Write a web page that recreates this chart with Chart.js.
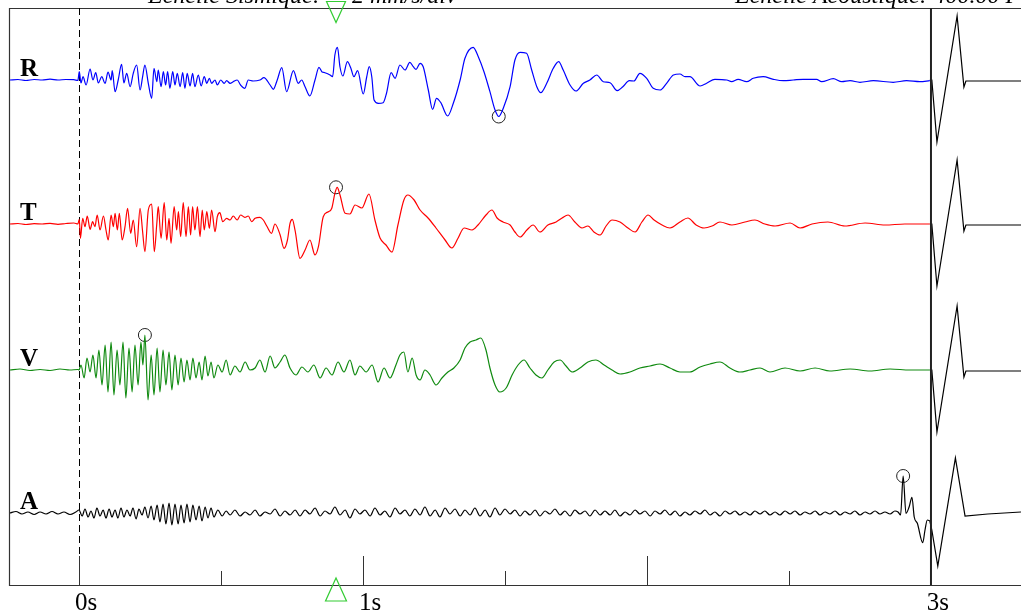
<!DOCTYPE html>
<html><head><meta charset="utf-8">
<script src="https://cdn.jsdelivr.net/npm/chart.js@4/dist/chart.umd.min.js"></script>
<style>html,body{margin:0;padding:0;background:#fff;overflow:hidden}</style>
</head><body>
<canvas id="c" width="1021" height="613"></canvas>
<script>
// ---- axis / labels ----
const tickTimes = [0, 0.5, 1, 1.5, 2, 2.5];
const labelTimes = [0, 1, 3];
const labelTexts = ['0s', '1s', '3s'];
const traceNames = ['R', 'T', 'V', 'A'];
const traceColors = ['#0000ff', '#ff0000', '#108a10', '#000000'];
const baselines = [505, 361, 215, 72];
const titleLeft = 'Echelle Sismique:';
const titleLeft2 = '2 mm/s/div';
const titleRight = 'Echelle Acoustique: 400.00 Pa/div';
const triggerTime = 0.905;

// ---- R (radial) ----
const rTime = [-0.243,-0.215,-0.187,-0.158,-0.130,-0.102,-0.074,-0.046,-0.018,-0.004,
0.001,0.007,0.014,0.025,0.039,0.049,0.059,0.068,0.080,0.092,0.102,0.113,0.117,0.127,0.138,0.150,0.158,0.168,0.180,0.191,0.203,0.215,0.224,0.232,0.244,0.256,0.264,0.274,0.279,0.289,0.297,0.305,0.312,0.320,0.330,0.338,0.346,0.356,0.365,0.373,0.381,0.391,0.400,0.408,0.420,0.430,0.441,0.450,0.459,0.467,0.479,0.487,0.499,0.511,0.520,0.532,0.543,0.557,0.569,0.584,0.596,0.613,0.637,0.651,0.673,0.684,0.698,0.714,0.731,0.755,0.772,0.784,0.796,0.813,0.831,0.845,0.855,0.866,0.884,0.893,0.901,0.910,0.919,0.929,0.945,0.957,0.968,0.981,1.001,1.013,1.022,1.031,1.039,1.054,1.071,1.083,1.099,1.113,1.130,1.148,1.165,1.177,1.187,1.201,1.212,1.230,1.245,1.259,1.274,1.298,1.318,1.342,1.359,1.388,1.406,1.426,1.447,1.465,1.478,1.494,1.518,1.535,1.553,1.576,1.594,1.612,1.626,1.647,1.670,1.689,1.705,1.729,1.750,1.776,1.799,1.823,1.846,1.870,1.895,1.915,1.938,1.954,1.975,1.999,2.022,2.046,2.069,2.093,2.116,2.134,2.151,2.187,2.210,2.239,2.281,2.298,2.321,2.351,2.374,2.409,2.445,2.480,2.515,2.550,2.597,2.615,2.656,2.686,2.715,2.750,2.797,2.867,2.914,2.961,2.996];
const rAmp = [0,0.5,-0.5,0.5,0,0.8,0,0.5,0.3,-0.5,
8.3,-3,3.3,-5,11,0,7.3,-3,3.3,-3.5,8,0,9.3,-11.7,0,15.7,-3,6.7,-6.7,6.7,15,-10,3.3,15,-3.3,-18.3,11.7,-1.7,10,-6.7,8.3,-5,8.3,-8.3,8.3,-5,6.7,-6.7,7.3,-8.3,6.7,-6,6.7,-6.7,5,-6,3.3,-3.3,1.7,-3.3,0,-5,0,-3.3,-0.7,-3.3,-1.7,0,-5,-8.3,0,-1,0,2.3,-5,-9.3,0,12.3,-11.7,9.3,-3.3,0,-6.7,-16,0,12.7,8.3,7.3,5,3.3,25,32.7,13,4,18.3,12,3.3,9.3,-14,3,13.3,3,-20,-23.3,-22.7,-13,7.3,1.7,15,10,17.7,13.3,10.7,16.7,13.3,-10,-29.3,-18.3,-22.7,-36,-23.3,0,21.7,32.7,23.3,8.3,-11.7,-30,-36.5,-28.3,-6.7,20,27.7,26.7,10,-6.7,-12.7,-3.3,11.7,18.3,10,-5,-11,-3.3,0,5,-1.7,-2.7,-10.7,-6.7,-0.7,-1,6.7,1.7,-8.3,-10,-3.3,5,6,3.3,3.3,-6,-3.3,0.7,0,-1.7,0.7,-1.7,1.7,3.3,0.7,-0.7,0,0.7,0.7,-1.7,1.3,-1.7,-0.7,-2.3,-0.7,-2.3,-0.7,-1.7,-0.7];

// ---- T (transverse) ----
const tTime = [-0.243,-0.215,-0.187,-0.158,-0.130,-0.102,-0.074,-0.046,-0.018,-0.004,
0.001,0.005,0.013,0.021,0.029,0.039,0.048,0.056,0.064,0.074,0.086,0.095,0.103,0.113,0.121,0.127,0.135,0.142,0.152,0.162,0.171,0.182,0.191,0.203,0.215,0.224,0.232,0.244,0.256,0.265,0.274,0.279,0.289,0.300,0.309,0.317,0.324,0.335,0.344,0.350,0.358,0.367,0.377,0.385,0.393,0.400,0.408,0.417,0.426,0.434,0.441,0.450,0.459,0.467,0.479,0.487,0.496,0.506,0.520,0.532,0.543,0.557,0.569,0.584,0.596,0.608,0.620,0.637,0.649,0.661,0.678,0.690,0.708,0.722,0.734,0.743,0.751,0.761,0.778,0.796,0.813,0.831,0.843,0.860,0.878,0.890,0.901,0.909,0.919,0.937,0.954,0.972,0.996,1.021,1.042,1.060,1.081,1.102,1.123,1.144,1.158,1.180,1.201,1.229,1.257,1.289,1.313,1.335,1.356,1.384,1.405,1.433,1.454,1.472,1.493,1.518,1.535,1.553,1.577,1.599,1.623,1.651,1.680,1.701,1.722,1.746,1.771,1.792,1.813,1.835,1.856,1.877,1.905,1.933,1.958,1.982,2.004,2.025,2.053,2.081,2.116,2.144,2.173,2.201,2.229,2.257,2.299,2.345,2.380,2.415,2.451,2.504,2.539,2.581,2.637,2.697,2.768,2.838,2.908,2.996];
const tAmp = [0,0.5,-0.5,0.3,0,0.6,-0.3,0.5,1,0,
4.7,-14.3,5.7,-2.7,8,-5.3,2.3,-2.7,9,-6,8,-6,-16,9,-2.7,10.7,-6,10.7,-16,-2.7,15.7,-9.3,4,-22.7,15.7,-7.7,-27.7,14,20,-27.7,0.7,17.3,-14.3,21.3,-16,5.7,-19.3,17.3,-6,12.3,-12.7,21.3,-12.7,17.3,-11,17.3,-6,17.3,-12.7,14,-6,12.3,-4.3,14,-7.7,7.3,11.3,2.3,5.7,4,8,4,9,6.7,8,2.3,5.7,6.7,4,-2,-9.3,0,-10.7,-24.3,-16,0.7,4.7,-6.7,-34.3,-26,-16,-31,-22.7,7.3,12.3,15.7,30.7,36.7,29,10.7,10,19,16,30,4,-14,-21,-28,-1,24,29,24,14,6,-4,-16,-24,-14,-4,-6,-1,9,14,6,2,-1,-8,-13,-6,-1,-8,-1,2,6,9,2,-4,-2,-8,-11,-2,4,2,-4,-8,2,9,4,-1,-4,2,6,-1,-4,-2,2,-1,2,4,0,-2,1,-4,0,2,-2,1,-1,0,0];

// ---- V (vertical) ----
const vTime = [-0.243,-0.208,-0.173,-0.137,-0.102,-0.067,-0.032,-0.004,
0.000,0.007,0.018,0.028,0.039,0.049,0.060,0.070,0.081,0.092,0.102,0.113,0.123,0.134,0.144,0.155,0.165,0.176,0.187,0.197,0.208,0.218,0.225,0.232,0.243,0.254,0.264,0.275,0.285,0.296,0.306,0.317,0.327,0.338,0.349,0.359,0.370,0.380,0.391,0.401,0.412,0.423,0.433,0.444,0.454,0.465,0.475,0.489,0.504,0.518,0.532,0.549,0.567,0.585,0.602,0.620,0.637,0.655,0.673,0.690,0.708,0.725,0.743,0.764,0.785,0.806,0.827,0.849,0.870,0.891,0.912,0.933,0.954,0.972,0.989,1.011,1.032,1.053,1.074,1.095,1.116,1.130,1.144,1.158,1.173,1.187,1.201,1.218,1.236,1.257,1.278,1.299,1.320,1.342,1.359,1.377,1.398,1.415,1.433,1.447,1.465,1.482,1.504,1.525,1.546,1.567,1.588,1.609,1.630,1.651,1.673,1.694,1.715,1.736,1.764,1.792,1.820,1.849,1.877,1.905,1.940,1.975,2.011,2.046,2.081,2.116,2.151,2.187,2.222,2.257,2.292,2.327,2.363,2.398,2.433,2.486,2.539,2.592,2.644,2.715,2.785,2.856,2.926,2.996];
const vAmp = [0,1,-0.5,0.5,-0.5,1,0,0.5,
0,5,-8,12,-2,15,-8,20,-15,25,-22,28,-25,20,-15,28,-28,22,-22,25,-15,28,5,35,-30,15,-25,22,-22,20,-15,18,-20,15,-15,12,-12,10,-10,12,-8,8,-10,14,-6,8,-8,5,-2,10,-5,4,-2,8,0,2,10,-2,14,2,8,15,2,-5,3,-2,5,-8,2,-5,8,-2,10,-5,4,-2,5,-12,2,-8,5,15,18,-2,12,-5,-10,0,-5,-15,-8,-2,2,10,22,28,30,32,20,2,-15,-22,-18,-5,5,10,2,-5,-8,0,8,10,4,-2,2,8,10,5,0,-4,-2,2,4,6,2,-2,-2,3,6,8,2,-2,0,2,-2,2,-1,2,-1,1,-1,1,0,0];

// ---- A (acoustic channel, seismic window) ----
const aTime = [-0.243,-0.222,-0.201,-0.180,-0.158,-0.137,-0.116,-0.095,-0.074,-0.053,-0.032,-0.011,
0.000,0.011,0.021,0.032,0.042,0.053,0.063,0.074,0.085,0.095,0.106,0.116,0.127,0.137,0.148,0.158,0.169,0.180,0.190,0.201,0.211,0.222,0.232,0.243,0.254,0.264,0.275,0.285,0.296,0.306,0.317,0.327,0.338,0.349,0.359,0.370,0.380,0.391,0.401,0.412,0.423,0.433,0.444,0.454,0.465,0.475,0.489,0.504,0.518,0.532,
0.549,0.567,0.585,0.602,0.620,0.637,0.655,0.673,0.690,0.708,0.725,0.743,0.761,0.778,0.796,0.813,0.831,0.849,0.866,0.884,0.901,0.919,0.937,0.954,0.972,0.989,1.007,1.025,1.042,1.060,1.077,1.095,1.113,1.130,1.148,1.165,1.183,1.201,1.218,1.236,1.254,1.271,1.289,1.306,1.324,1.342,1.359,1.377,1.394,1.412,1.430,1.447,1.465,1.482,1.500,1.518,1.535,1.553,1.570,1.588,1.606,1.623,1.641,1.658,1.676,1.694,1.711,1.729,1.746,1.764,1.782,1.799,1.817,1.835,1.852,1.870,1.887,1.905,1.923,1.940,1.958,1.975,1.993,2.011,2.028,2.046,2.063,2.081,2.099,2.116,2.134,2.151,2.169,2.187,2.204,2.222,2.239,2.257,2.275,2.292,2.310,2.327,2.345,2.363,2.380,2.398,2.415,2.433,2.451,2.468,2.486,2.504,2.521,2.539,2.556,2.574,2.592,2.609,2.627,2.644,2.662,2.680,2.697,2.715,2.732,2.750,2.768,2.785,2.803,2.820,2.838,2.856,2.873,2.884,2.893,2.902,2.912,2.923,2.933,2.941,2.952,2.971,2.979,2.987,2.996];
const aAmp = [0,1.5,-1,1,-1.5,1,-1,1.5,-1,1,-1.5,1,
3,-3,4,-4,2,-5,5,-3,3,-5,4,-4,3,-5,5,-4,3,-3,5,-6,4,-2,6,-5,7,-7,8,-9,9,-11,10,-12,9,-11,8,-10,9,-9,8,-7,7,-8,6,-5,5,-4,3,-3,2,-2,
3,-3,1,-2,3,-3,1,-1,4,-3,2,-2,3,-3,3,-1,5,-3,2,-1,6,-2,3,-5,4,-1,3,-3,5,-2,2,-4,5,-1,3,-3,4,-2,6,-3,3,-4,5,-1,4,-3,3,-2,5,-3,3,-4,5,-2,4,-1,3,-3,2,-2,3,-3,2,-1,4,-2,2,-3,3,-1,2,-3,3,-2,2,-2,3,-3,1,-2,3,-1,2,-3,2,-1,3,-2,2,-3,1,-2,2,-1,3,-2,1,-3,2,-1,2,-2,1,-2,2,-1,2,-2,1,-2,2,-1,2,-2,1,-1,2,-2,1,-1,2,-2,1,-1,2,-2,1,-1,2,-1,1,-1,2,1,-2,37,-0.3,6,15.7,-4,-10.3,-29.7,-17,-7,-8];

// ---- acoustic pulse after 3 s ----
const pulseTime = [2.996, 3.003, 3.021, 3.092, 3.116, 3.123, 3.200, 3.317];
const pulseAmp = [0, 0, -62, 64, -7, -1, -1, -1];
const pulseTimeA = [2.996, 3.003, 3.024, 3.086, 3.120, 3.200, 3.317];
const pulseAmpA = [-8, -17, -53, 55, -3, -1, 1];

// ---- peak markers ----
const peakTimes = [1.478, 0.905, 0.232, 2.902];
const peakAmps = [-36.5, 36.7, 35, 37];

const traces = [[rTime, rAmp], [tTime, tAmp], [vTime, vAmp], [aTime, aAmp]];
const datasets = [];
traces.forEach(([ts, as], i) => {
  datasets.push({
    data: ts.map((t, j) => ({x: t, y: baselines[i] + as[j]})),
    borderColor: traceColors[i], borderWidth: 1.2, pointRadius: 0,
    cubicInterpolationMode: 'monotone', fill: false
  });
  const pt = i === 3 ? pulseTimeA : pulseTime;
  const pa = i === 3 ? pulseAmpA : pulseAmp;
  datasets.push({
    data: pt.map((t, j) => ({x: t, y: baselines[i] + pa[j]})),
    borderColor: '#000', borderWidth: 1.2, pointRadius: 0, tension: 0, fill: false
  });
});
datasets.push({
  type: 'scatter',
  data: peakTimes.map((t, i) => ({x: t, y: baselines[i] + peakAmps[i]})),
  pointStyle: 'circle', pointRadius: 6.5, pointBorderColor: '#222', pointBorderWidth: 1,
  pointBackgroundColor: 'rgba(0,0,0,0)', showLine: false, clip: false
});

const deco = {
  id: 'deco',
  beforeDatasetsDraw(chart) {
    const {ctx, chartArea: a, scales: {x}} = chart;
    ctx.save();
    ctx.strokeStyle = '#333'; ctx.lineWidth = 1.2;
    ctx.beginPath();
    ctx.moveTo(1100, a.top + 0.5); ctx.lineTo(a.left - 0.5, a.top + 0.5);
    ctx.lineTo(a.left - 0.5, a.bottom + 0.5); ctx.lineTo(1100, a.bottom + 0.5);
    ctx.stroke();
    // dashed zero line
    ctx.strokeStyle = '#000'; ctx.lineWidth = 1; ctx.setLineDash([7, 4]);
    const x0 = Math.round(x.getPixelForValue(0)) + 0.5;
    ctx.beginPath(); ctx.moveTo(x0, a.top); ctx.lineTo(x0, a.bottom); ctx.stroke();
    ctx.setLineDash([]);
    ctx.strokeStyle = '#333';
    tickTimes.forEach(t => {
      const px = Math.round(x.getPixelForValue(t)) + 0.5;
      const len = Number.isInteger(t) ? 29 : 14;
      ctx.beginPath(); ctx.moveTo(px, a.bottom - len); ctx.lineTo(px, a.bottom); ctx.stroke();
    });
    ctx.restore();
  },
  afterDatasetsDraw(chart) {
    const {ctx, chartArea: a, scales: {x, y}} = chart;
    ctx.save();
    const x3 = x.getPixelForValue(3);
    ctx.strokeStyle = '#222'; ctx.lineWidth = 2;
    ctx.beginPath(); ctx.moveTo(x3, a.top); ctx.lineTo(x3, a.bottom); ctx.stroke();
    // labels
    ctx.fillStyle = '#000';
    ctx.font = '25px "Liberation Serif", "Times New Roman", serif';
    ctx.textAlign = 'center'; ctx.textBaseline = 'alphabetic';
    labelTimes.forEach((t, i) => ctx.fillText(labelTexts[i], x.getPixelForValue(t) + 7, 610));
    // trace letters
    ctx.font = 'bold 25px "Liberation Serif", "Times New Roman", serif';
    ctx.textAlign = 'left';
    traceNames.forEach((n, i) => ctx.fillText(n, 20, y.getPixelForValue(baselines[i]) - 4));
    // titles
    ctx.font = 'italic 24px "Liberation Serif", "Times New Roman", serif';
    ctx.fillText(titleLeft, 148, 3);
    ctx.fillText(titleLeft2, 352, 3);
    ctx.fillText(titleRight, 735, 3);
    // trigger triangles
    const xt = x.getPixelForValue(triggerTime);
    ctx.strokeStyle = '#33cc33'; ctx.lineWidth = 1.2;
    ctx.beginPath(); ctx.moveTo(xt - 9.5, 1.5); ctx.lineTo(xt + 9.5, 1.5); ctx.lineTo(xt, 22.5); ctx.closePath(); ctx.stroke();
    ctx.beginPath(); ctx.moveTo(xt, 578); ctx.lineTo(xt + 10.5, 601); ctx.lineTo(xt - 10.5, 601); ctx.closePath(); ctx.stroke();
    ctx.restore();
  }
};

new Chart(document.getElementById('c'), {
  type: 'line',
  data: {datasets},
  options: {
    responsive: false, animation: false, devicePixelRatio: 1,
    layout: {autoPadding: false, padding: {left: 10, top: 8, right: 0, bottom: 28}},
    plugins: {legend: {display: false}, tooltip: {enabled: false}},
    scales: {
      x: {type: 'linear', min: -0.243, max: 3.317, display: false},
      y: {type: 'linear', min: 0, max: 577, display: false}
    }
  },
  plugins: [deco]
});
</script>
</body></html>
